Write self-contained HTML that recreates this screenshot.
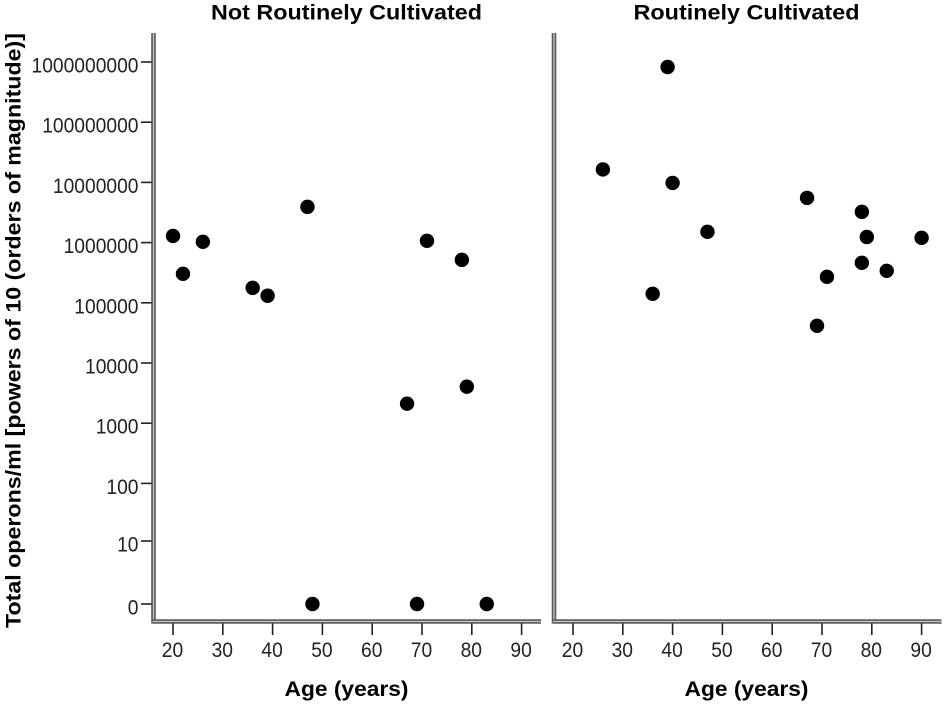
<!DOCTYPE html>
<html lang="en">
<head>
<meta charset="utf-8">
<title>Total operons by age</title>
<style>
html,body{margin:0;padding:0;background:#fff;}
svg{display:block;font-family:"Liberation Sans",sans-serif;}
.tick-label{font-size:21px;fill:#222;}
.title{font-size:21px;font-weight:bold;fill:#000;}
</style>
</head>
<body>
<svg id="chart" xmlns="http://www.w3.org/2000/svg" width="945" height="704" viewBox="0 0 945 704"></svg>
<script>
const panelTitles = ["Not Routinely Cultivated", "Routinely Cultivated"];
const ageTicks = [20, 30, 40, 50, 60, 70, 80, 90];
const operonTicks = [0, 10, 100, 1000, 10000, 100000, 1000000, 10000000, 100000000, 1000000000];
const notCultivatedAges = [20, 22, 26, 36, 39, 47, 48, 67, 69, 71, 78, 79, 83];
const notCultivatedOperons = [1290000, 303000, 1030000, 177000, 131000, 3920000, 0, 2110, 0, 1070000, 517000, 4040, 0];
const cultivatedAges = [26, 36, 39, 40, 47, 67, 69, 71, 78, 78, 79, 83, 90];
const cultivatedOperons = [16400000, 141000, 826000000, 9800000, 1510000, 5530000, 41500, 270000, 3240000, 461000, 1240000, 340000, 1200000];

const NS = 'http://www.w3.org/2000/svg';
const svg = document.getElementById('chart');

function make(tag, attrs, parent) {
  const el = document.createElementNS(NS, tag);
  for (const k in attrs) el.setAttribute(k, attrs[k]);
  parent.appendChild(el);
  return el;
}

// Axis functions
function xScale(age, origin) {
  return origin + (age - 20) * 4.98;
}
function yScale(v) {
  if (v <= 0) return 604;
  const lg = Math.log10(v);
  if (lg < 1) return 604 + (541 - 604) * lg;
  if (lg < 2) return 541 + (483.7 - 541) * (lg - 1);
  return 62 + (9 - lg) * 60.2;
}

function drawDoubleLine(x1, y1, x2, y2, parent) {
  make('line', {x1, y1, x2, y2, stroke: '#5a5a5a', 'stroke-width': 4.6}, parent);
  make('line', {x1, y1, x2, y2, stroke: '#c4c4c4', 'stroke-width': 1.3}, parent);
}

function tickText(parent, x, y, anchor, value) {
  const s = String(value);
  const t = make('text', {class: 'tick-label', x: x, y: y, 'text-anchor': anchor, textLength: s.length * 10.7, lengthAdjust: 'spacingAndGlyphs'}, parent);
  t.textContent = s;
  return t;
}

function titleText(parent, x, y, width, value) {
  const t = make('text', {class: 'title', x: x, y: y, 'text-anchor': 'middle', textLength: width, lengthAdjust: 'spacingAndGlyphs'}, parent);
  t.textContent = value;
  return t;
}

function drawPanel(index, axisX, origin, ages, values) {
  const g = make('g', {}, svg);
  
  

  const title = titleText(g, origin + 173.5, 19.5, index === 0 ? 271 : 226, panelTitles[index]);
  
  

  const yAxis = make('g', {}, g);
  
  
  drawDoubleLine(axisX, 33, axisX, 623.5, yAxis);

  const xAxis = make('g', {}, g);
  
  
  drawDoubleLine(axisX - 1, 621.5, axisX + 387.5, 621.5, xAxis);

  ageTicks.forEach(function (age) {
    const x = xScale(age, origin);
    const tick = make('line', {x1: x, y1: 623.5, x2: x, y2: 635, stroke: '#222', 'stroke-width': 1.6}, xAxis);
    
    
    const label = tickText(xAxis, x - 0.5, 657, 'middle', age);
    
    
  });

  const xTitle = titleText(g, origin + 173.5, 696, 124, 'Age (years)');
  
  

  const points = make('g', {fill: '#000'}, g);
  
  
  ages.forEach(function (age, i) {
    const c = make('circle', {cx: xScale(age, origin), cy: yScale(values[i]), r: 7.2}, points);
    
    
  });
}

drawPanel(0, 153.5, 173, notCultivatedAges, notCultivatedOperons);
drawPanel(1, 554, 573, cultivatedAges, cultivatedOperons);

operonTicks.forEach(function (v) {
  const y = yScale(v);
  const tick = make('line', {x1: 141, y1: y, x2: 151.5, y2: y, stroke: '#222', 'stroke-width': 1.6}, svg);
  
  
  const label = tickText(svg, 138.5, y + 10.5, 'end', v);
  
  
});

const yTitle = make('text', {class: 'title', x: 0, y: 0, 'text-anchor': 'middle', textLength: 595, lengthAdjust: 'spacingAndGlyphs', transform: 'translate(20.5 330.5) rotate(-90)'}, svg);
yTitle.textContent = 'Total operons/ml [powers of 10 (orders of magnitude)]';


</script>
</body>
</html>
